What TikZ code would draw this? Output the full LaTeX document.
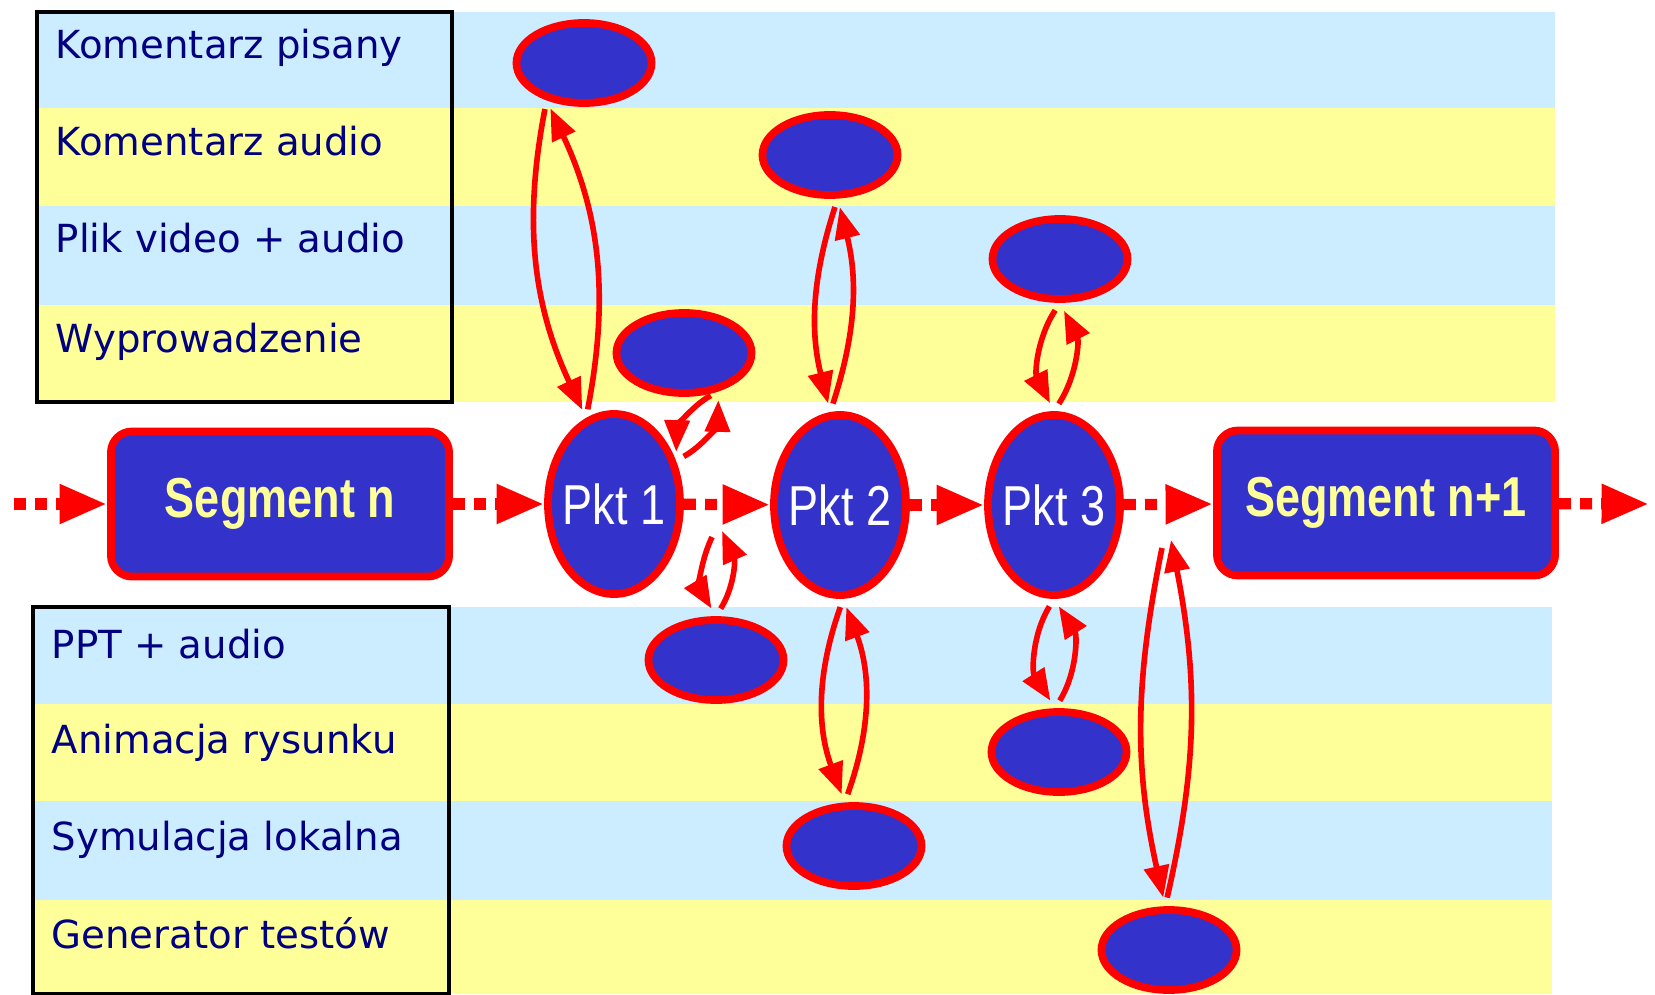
\documentclass[tikz,border=0pt]{standalone}
\usepackage{fontspec}
\setmainfont{DejaVu Sans}
\newfontfamily\narrowfont[FakeStretch=0.8]{Liberation Sans}
\usepackage{tikz}
\definecolor{blockblue}{RGB}{51,51,204}
\definecolor{bandblue}{RGB}{204,236,255}
\definecolor{bandyellow}{RGB}{255,255,153}
\definecolor{labelnavy}{RGB}{0,0,128}
\usetikzlibrary{arrows.meta, shapes.geometric}
\tikzstyle{segment} = [draw=red, line width=2.2pt, fill=blockblue, rectangle, rounded corners=6pt, minimum width=3.38cm, minimum height=1.45cm, text=bandyellow, font=\narrowfont\fontsize{16}{19}\selectfont\bfseries]
\tikzstyle{pkt} = [draw=red, line width=2.2pt, fill=blockblue, ellipse, inner sep=0pt, minimum width=1.32cm, minimum height=1.80cm]
\tikzstyle{pkttext} = [text=white, font=\narrowfont\fontsize{16}{19}\selectfont]
\tikzstyle{media} = [draw=red, line width=2.2pt, fill=blockblue, ellipse, inner sep=0pt, minimum width=1.35cm, minimum height=0.80cm]
\tikzstyle{lane} = [anchor=base west, inner sep=0pt, text=labelnavy, font=\fontsize{11}{13}\selectfont]
\tikzstyle{flow} = [red, line width=3.2pt, dash pattern=on 3.4pt off 2.6pt, -{Triangle[length=13.5pt,width=10.5pt]}]
\tikzstyle{link} = [red, line width=1.6pt, -{Triangle[length=9pt,width=7pt]}, shorten <=2.5pt, shorten >=2.5pt]

\begin{document}
\begin{tikzpicture}[x=0.01cm, y=0.01cm]
    \useasboundingbox (0,0) rectangle (1655,-994);

    % Lanes
    \fill[bandblue] (37,-12) rectangle (1555,-108);
    \fill[bandyellow] (37,-108) rectangle (1555,-206);
    \fill[bandblue] (37,-206) rectangle (1555,-305);
    \fill[bandyellow] (37,-305) rectangle (1555,-402);
    \fill[bandblue] (33,-607) rectangle (1552,-704);
    \fill[bandyellow] (33,-704) rectangle (1552,-801);
    \fill[bandblue] (33,-801) rectangle (1552,-900);
    \fill[bandyellow] (33,-900) rectangle (1552,-994);
    \draw[line width=1.2pt] (37,-12) rectangle (452,-402);
    \draw[line width=1.2pt] (33,-607) rectangle (449,-994);

    % Lane titles
    \node[lane] (kpis) at (55,-59) {Komentarz pisany};
    \node[lane] (kaud) at (55,-156) {Komentarz audio};
    \node[lane] (plik) at (55,-252) {Plik video + audio};
    \node[lane] (wypt) at (55,-352) {Wyprowadzenie};
    \node[lane] (pptt) at (51,-658) {PPT + audio};
    \node[lane] (anit) at (51,-753) {Animacja rysunku};
    \node[lane] (symt) at (51,-850) {Symulacja lokalna};
    \node[lane] (gent) at (51,-948) {Generator testów};

    % Place the blocks
    \coordinate (in) at (14,-504);
    \node[segment] (segn) at (280,-504) {Segment n};
    \node[pkt, label={[pkttext]center:Pkt 1}] (pkt1) at (614,-504) {};
    \node[pkt, label={[pkttext]center:Pkt 2}] (pkt2) at (840,-505) {};
    \node[pkt, label={[pkttext]center:Pkt 3}] (pkt3) at (1054,-505) {};
    \node[segment] (segn1) at (1386,-503) {Segment n+1};
    \coordinate (out) at (1649,-504);

    % Place the media
    \node[media] (pisany) at (584,-63) {};
    \node[media] (audio) at (830,-155) {};
    \node[media] (video) at (1060,-259) {};
    \node[media] (wypr) at (684,-353) {};
    \node[media] (ppt) at (716,-660) {};
    \node[media] (anim) at (1059,-752) {};
    \node[media] (sym) at (854,-846) {};
    \node[media] (gen) at (1169,-950) {};
    \coordinate (tapA) at (712,-537);
    \coordinate (tapB) at (722,-531);
    \coordinate (tapC) at (1162,-548);
    \coordinate (tapD) at (1171,-540);

    % Connect the nodes
    \draw[flow] (in) -- (segn);
    \draw[flow] (segn) -- (pkt1);
    \draw[flow] (pkt1) -- (pkt2);
    \draw[flow] (pkt2) -- (pkt3);
    \draw[flow] (pkt3) -- (segn1);
    \draw[flow] (segn1) -- (out);

    % Links to the media
    \draw[link] (pisany.225) to[bend right=18] (pkt1.108);
    \draw[link] (pkt1.108) to[bend right=18] (pisany.225);
    \draw[link] (audio.280) to[bend right=16] (pkt2.96);
    \draw[link] (pkt2.96) to[bend right=16] (audio.280);
    \draw[link] (video.270) to[bend right=30] (pkt3.90);
    \draw[link] (pkt3.90) to[bend right=30] (video.270);
    \draw[link] (wypr.312) to[bend right=30] (pkt1.35);
    \draw[link] (pkt1.35) to[bend right=30] (wypr.312);
    \draw[link, shorten <=0pt] (tapA) to[bend right=28] (ppt.90);
    \draw[link, shorten >=0pt] (ppt.90) to[bend right=28] (tapB);
    \draw[link] (pkt2.272) to[bend right=20] (sym.102);
    \draw[link] (sym.102) to[bend right=20] (pkt2.272);
    \draw[link] (pkt3.270) to[bend right=32] (anim.95);
    \draw[link] (anim.95) to[bend right=32] (pkt3.270);
    \draw[link, shorten <=0pt] (tapC) to[bend right=12] (gen.95);
    \draw[link, shorten >=0pt] (gen.95) to[bend right=12] (tapD);
\end{tikzpicture}
\end{document}
